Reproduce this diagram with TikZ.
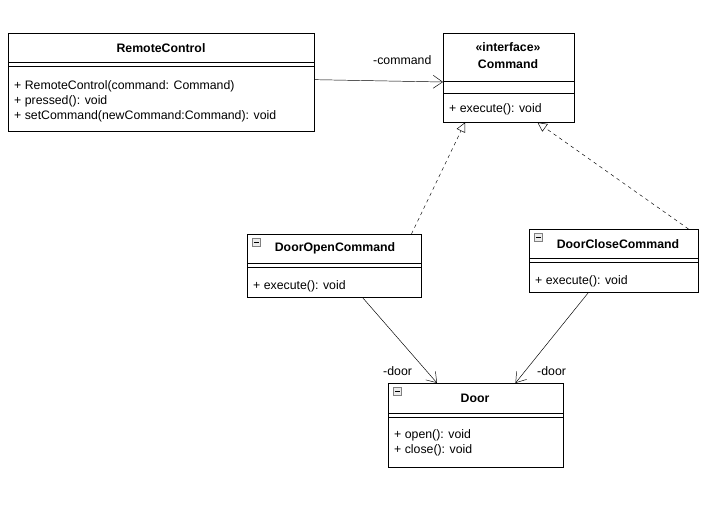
\documentclass[tikz,border=0pt]{standalone}
\usepackage{fontspec}
\setmainfont{Liberation Sans}
\usetikzlibrary{arrows.meta,positioning}
\tikzset{
  umlbox/.style={draw=black, fill=white, inner sep=0pt, anchor=north west},
  umltxt/.style={inner sep=0pt, anchor=west, font=\fontsize{10.5}{12}\selectfont},
  umltitle/.style={inner sep=0pt, font=\bfseries\fontsize{10.5}{12}\selectfont},
  assoc/.style={-{Straight Barb[length=8pt,width=11pt]}},
  realize/.style={dashed, -{Triangle[open,length=8pt,width=8pt]}},
  icon/.style={draw=gray, fill=gray!15, minimum size=7pt, inner sep=0pt, anchor=north west}
}
\begin{document}
\begin{tikzpicture}[x=0.03cm, y=-0.03cm]
        \useasboundingbox (0,0) rectangle (708,514);
        % classes
        \node (rc) [umlbox, minimum width=306*0.03cm, minimum height=98*0.03cm] at (8,33) {};
        \node (cmd) [umlbox, minimum width=131*0.03cm, minimum height=89*0.03cm] at (443,33) {};
        \node (dopen) [umlbox, minimum width=174*0.03cm, minimum height=63*0.03cm] at (247,234) {};
        \node (dclose) [umlbox, minimum width=169*0.03cm, minimum height=63*0.03cm] at (529,229) {};
        \node (door) [umlbox, minimum width=175*0.03cm, minimum height=84*0.03cm] at (388,383) {};

        % compartments
        \draw (8,62) -- (314,62) (8,66) -- (314,66);
        \draw (443,81) -- (574,81) (443,93) -- (574,93);
        \draw (247,263) -- (421,263) (247,267) -- (421,267);
        \draw (529,258) -- (698,258) (529,262) -- (698,262);
        \draw (388,413) -- (563,413) (388,417) -- (563,417);

        % icons
        \node (i1) [icon] at (252,238) {};
        \node (i2) [icon] at (534,233) {};
        \node (i3) [icon] at (393,387) {};
        \foreach \n in {i1,i2,i3}
            \draw ([xshift=1.5pt]\n.west) -- ([xshift=-1.5pt]\n.east);

        % texts
        \node (rc_t) [umltitle] at (161,48) {RemoteControl};
        \node (rc_1) [umltxt] at (14,86) {+ RemoteControl(command: Command)};
        \node (rc_2) [umltxt] at (14,101) {+ pressed(): void};
        \node (rc_3) [umltxt] at (14,116) {+ setCommand(newCommand:Command): void};
        \node (cmd_s) [umltitle] at (508,47) {<<interface>>};
        \node (cmd_t) [umltitle] at (508,64) {Command};
        \node (cmd_1) [umltxt] at (449,109) {+ execute(): void};
        \node (do_t) [umltitle] at (335,248) {DoorOpenCommand};
        \node (do_1) [umltxt] at (253,286) {+ execute(): void};
        \node (dc_t) [umltitle] at (618,244) {DoorCloseCommand};
        \node (dc_1) [umltxt] at (535,281) {+ execute(): void};
        \node (door_t) [umltitle] at (475,398) {Door};
        \node (door_1) [umltxt] at (394,435) {+ open(): void};
        \node (door_2) [umltxt] at (394,450) {+ close(): void};

        % relations
        \draw[assoc] ([yshift=-1.4cm]rc.north east) -- ([yshift=-1.47cm]cmd.north west);
        \node (l_cmd) [umltxt] at (373,60) {-command};
        \draw[realize] ([xshift=-0.3cm]dopen.north east) -- ([xshift=0.66cm]cmd.south west);
        \draw[realize] ([xshift=-0.3cm]dclose.north east) -- ([xshift=-1.11cm]cmd.south east);
        \draw[assoc] ([xshift=-1.77cm]dopen.south east) -- ([xshift=1.47cm]door.north west);
        \node (l_d1) [umltxt] at (383,371) {-door};
        \draw[assoc] ([xshift=-3.3cm]dclose.south east) -- ([xshift=-1.44cm]door.north east);
        \node (l_d2) [umltxt] at (537,371) {-door};
\end{tikzpicture}
\end{document}
